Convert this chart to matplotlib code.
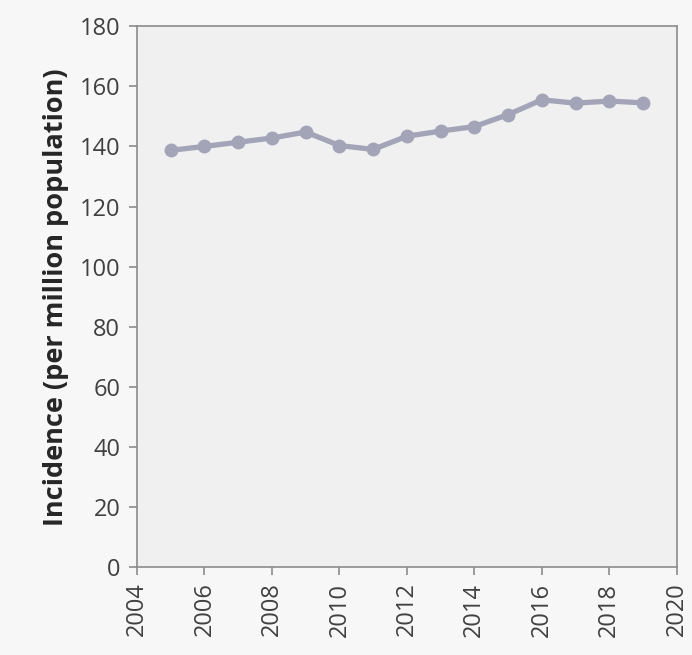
import numpy as np
import matplotlib
matplotlib.use('Agg')
import matplotlib.pyplot as plt

# ===================== DATI =====================
years = [2005, 2006, 2007, 2008, 2009, 2010, 2011, 2012,
         2013, 2014, 2015, 2016, 2017, 2018, 2019]
incidence = [138.7, 140.0, 141.4, 142.8, 144.8, 140.3, 139.0, 143.4,
             145.1, 146.6, 150.6, 155.5, 154.4, 155.1, 154.5]
x_ticks = [2004, 2006, 2008, 2010, 2012, 2014, 2016, 2018, 2020]
y_ticks = [0, 20, 40, 60, 80, 100, 120, 140, 160, 180]
# ================================================

plt.rcParams['font.family'] = ['Open Sans', 'DejaVu Sans']

fig = plt.figure(figsize=(6.92, 6.55), dpi=100, facecolor='#f7f7f7')
ax = fig.add_axes([0.198, 0.134, 0.780, 0.826])
ax.set_facecolor('#f0f0f0')

ax.plot(years, incidence, color='#a3a4b8', linewidth=3.8, marker='o',
        markersize=9, markerfacecolor='#a3a4b8', markeredgecolor='#a3a4b8')

ax.set_xlim(2004, 2020)
ax.set_ylim(0, 180)
ax.set_xticks(x_ticks)
ax.set_yticks(y_ticks)
ax.set_xticklabels([str(t) for t in x_ticks], rotation=90)

for s in ax.spines.values():
    s.set_color('#8c8c8c')
    s.set_linewidth(1.2)

ax.tick_params(axis='both', colors='#8c8c8c', labelcolor='#404040',
               labelsize=17, length=6, width=1.2, direction='out')
ax.tick_params(axis='x', pad=5)
ax.tick_params(axis='y', pad=6)

ax.set_ylabel('Incidence (per million population)', fontsize=19.5,
              fontweight='bold', color='#262626', labelpad=8)

fig.savefig('out.png', dpi=100, facecolor=fig.get_facecolor())
